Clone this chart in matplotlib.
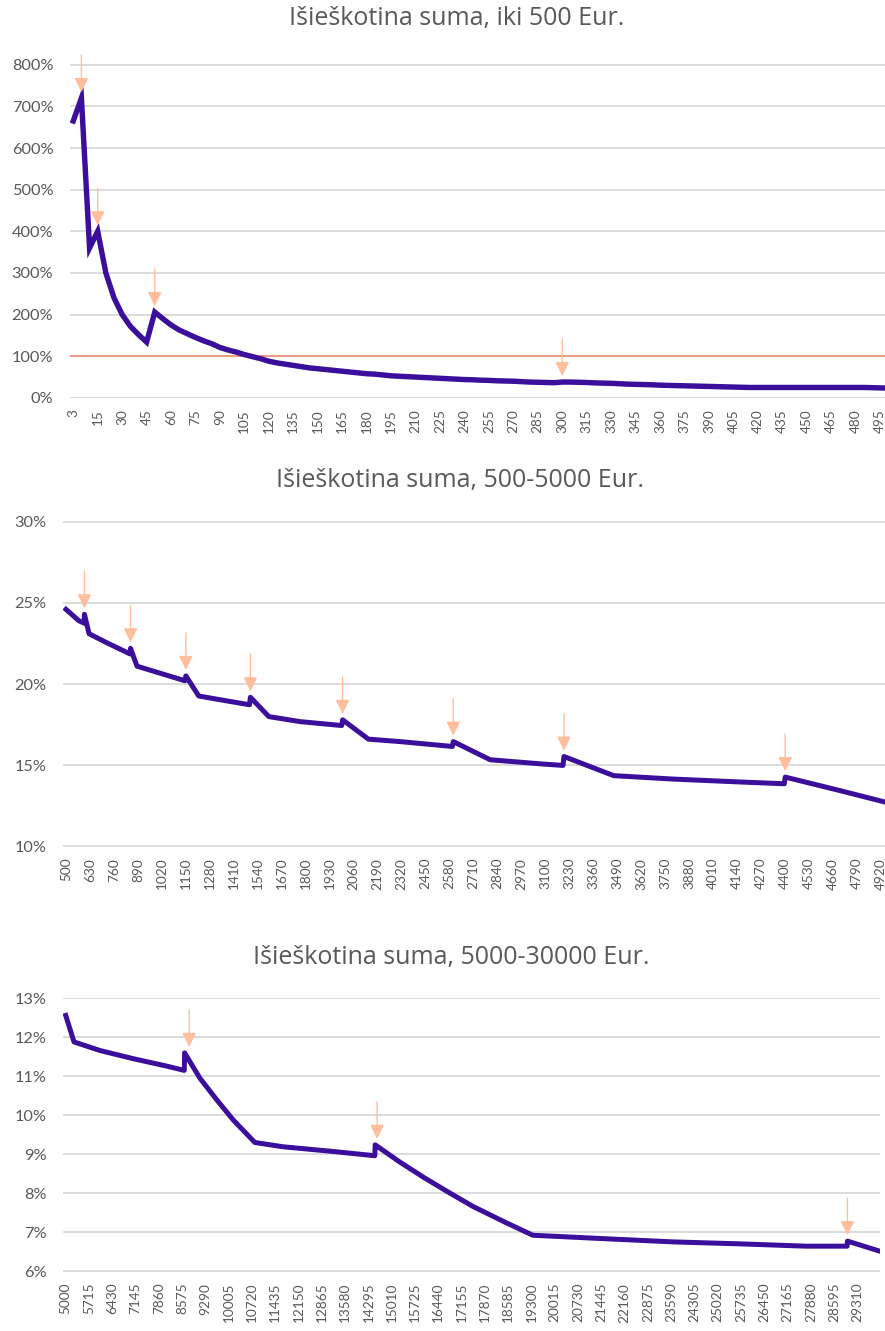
import matplotlib
matplotlib.use("Agg")
import matplotlib.pyplot as plt

plt.rcParams['font.family'] = ['Lato', 'DejaVu Sans']

# ---------------- data ----------------
titles = ["Išieškotina suma, iki 500 Eur.",
          "Išieškotina suma, 500-5000 Eur.",
          "Išieškotina suma, 5000-30000 Eur."]

# chart 1: category axis (3, 5, 10, ..., 500), values in %
cats1 = [3] + list(range(5, 505, 5))
vals1 = [665, 720, 360, 400, 300, 240, 200, 172, 152, 134,
         206, 190, 175, 163, 154, 145, 137, 130, 121, 115,
         110, 104, 99, 94, 88, 84, 81, 78, 75, 72,
         70, 68, 66, 64, 62, 60, 58, 57, 55, 53,
         52, 51, 50, 49, 48, 47, 46, 45, 44, 43.5,
         42.5, 42, 41, 40.5, 40, 39, 38, 37.5, 37, 36.5,
         38, 38, 37.5, 37, 36, 35.5, 35, 34, 33, 32.5,
         32, 31.5, 30.5, 30, 29.5, 29, 28.5, 28, 27.5, 27,
         26.5, 26, 25.5, 25, 25, 25, 25, 25, 25, 25,
         25, 25, 25, 25, 25, 25, 25, 25, 24.5, 24, 23.5]
arrows1_cat = [5, 15, 50, 300]
threshold1 = 100

# chart 2: amount (Eur) vs %
amt2 = [500, 540, 570, 598, 600, 625, 720, 848, 850, 885, 1000, 1145, 1150,
        1220, 1320, 1495, 1500, 1600, 1770, 1995, 2000, 2140, 2310, 2595,
        2600, 2800, 3070, 3195, 3200, 3470, 3790, 4155, 4395, 4400, 4700, 5000]
vals2 = [24.6, 24.2, 23.9, 23.75, 24.3, 23.1, 22.55, 21.85, 22.2, 21.1, 20.7,
         20.2, 20.5, 19.26, 19.06, 18.72, 19.18, 17.99, 17.68, 17.44, 17.79,
         16.6, 16.45, 16.15, 16.45, 15.33, 15.08, 14.98, 15.53, 14.35, 14.14,
         13.96, 13.85, 14.26, 13.42, 12.55]
arrows2_amt = [600, 850, 1150, 1500, 2000, 2600, 3200, 4400]
arrows2_val = [24.3, 22.2, 20.5, 19.18, 17.79, 16.45, 15.53, 14.26]
ticks2 = list(range(500, 5000, 130))

# chart 3: amount (Eur) vs %
amt3 = [5000, 5255, 6052, 7074, 8098, 8640, 8650, 9120, 9632, 10141, 10807,
        11675, 13209, 14490, 14500, 15255, 16000, 16800, 17503, 18525, 19343,
        21595, 23638, 25684, 27730, 28990, 29000, 30000]
vals3 = [12.56, 11.88, 11.66, 11.45, 11.26, 11.15, 11.6, 10.95, 10.4, 9.88,
         9.3, 9.19, 9.07, 8.96, 9.24, 8.8, 8.4, 8.0, 7.66, 7.24, 6.92,
         6.83, 6.75, 6.70, 6.64, 6.64, 6.77, 6.51]
arrows3_amt = [8790, 14560, 29000]
arrows3_val = [11.6, 9.24, 6.77]
ticks3 = list(range(5000, 30000, 715))

# ---------------- style ----------------
LINE_C = '#3B0E9B'
ARROW_C = '#FFBE9C'
RED_C = '#F4846C'
GRID_C = '#D9D9D9'
TEXT_C = '#595959'
TITLE_FONT = ['Open Sans', 'DejaVu Sans']

W, H = 885, 1331
fig = plt.figure(figsize=(W / 100, H / 100), dpi=100)


def add_ax(left, right, top, bottom):
    return fig.add_axes([left / W, 1 - bottom / H, (right - left) / W, (bottom - top) / H])


def style(ax, yticks):
    for s in ax.spines.values():
        s.set_visible(False)
    ax.set_yticks(yticks)
    ax.set_yticklabels([f"{v:g}%" for v in yticks], fontsize=11.8, color=TEXT_C)
    ax.yaxis.grid(True, color=GRID_C, lw=1.3)
    ax.xaxis.grid(False)
    ax.set_axisbelow(True)
    ax.tick_params(axis='both', length=0)
    ax.tick_params(axis='y', pad=12)
    ax.tick_params(axis='x', pad=8, labelsize=9.8, labelcolor=TEXT_C)


def arrow(ax, x, y):
    ax.annotate('', xy=(x, y), xycoords='data', xytext=(0, 43),
                textcoords='offset pixels', annotation_clip=False,
                arrowprops=dict(arrowstyle='-|>,head_length=0.85,head_width=0.42',
                                color=ARROW_C, lw=1.0, shrinkA=0, shrinkB=4.3,
                                mutation_scale=10), zorder=5)


def title(x, y, s):
    fig.text(x / W, 1 - y / H, s, ha='center', va='center',
             fontsize=18, color=TEXT_C, family=TITLE_FONT)


# ---------- chart 1 ----------
ax1 = add_ax(70, 885, 64.3, 398.3)
idx1 = list(range(len(cats1)))
ax1.plot(idx1, vals1, color=LINE_C, lw=3.9, solid_joinstyle='miter', zorder=3)
ax1.axhline(threshold1, color=RED_C, lw=1.1, zorder=2)
style(ax1, list(range(0, 900, 100)))
ax1.set_ylim(-1, 801)
ax1.set_xlim(-0.4, 99.6)
ax1.set_xticks(idx1[::3])
ax1.set_xticklabels([str(c) for c in cats1[::3]], rotation=90)
for c in arrows1_cat:
    i = cats1.index(c)
    arrow(ax1, i, vals1[i])
title(456.7, 19, titles[0])

# ---------- chart 2 ----------
ax2 = add_ax(63.3, 885, 521.3, 846.7)
ax2.plot(amt2, vals2, color=LINE_C, lw=3.6, zorder=3)
style(ax2, [10, 15, 20, 25, 30])
ax2.set_ylim(9.97, 30.03)
ax2.set_xlim(485.4, 4941)
ax2.set_xticks(ticks2)
ax2.set_xticklabels([str(t) for t in ticks2], rotation=90)
for x, y in zip(arrows2_amt, arrows2_val):
    arrow(ax2, x, y)
title(460.3, 481, titles[1])

# ---------- chart 3 ----------
ax3 = add_ax(63.3, 880, 997.7, 1271.7)
ax3.plot(amt3, vals3, color=LINE_C, lw=3.6, zorder=3)
style(ax3, list(range(6, 14)))
ax3.set_ylim(5.985, 13.015)
ax3.set_xlim(4926, 30000)
ax3.set_xticks(ticks3)
ax3.set_xticklabels([str(t) for t in ticks3], rotation=90)
for x, y in zip(arrows3_amt, arrows3_val):
    arrow(ax3, x, y)
title(451.5, 957.5, titles[2])

fig.savefig("out.png", dpi=100)
